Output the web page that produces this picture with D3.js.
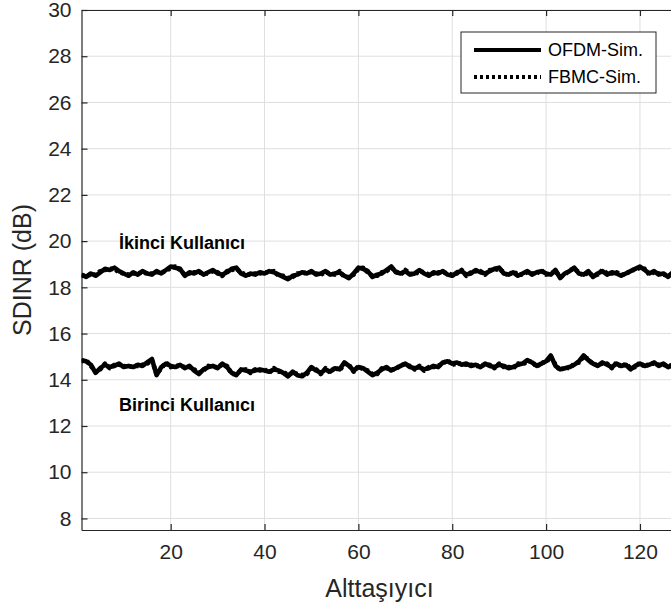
<!DOCTYPE html>
<html>
<head>
<meta charset="utf-8">
<script src="https://cdn.jsdelivr.net/npm/d3@7"></script>
<style>
  body { margin: 0; background: #fff; }
  svg { display: block; font-family: "Liberation Sans", Arial, sans-serif; }
</style>
</head>
<body>
<div id="chart"></div>
<script>
// values, subcarrier 1..128
const ikinciOFDM = [
  18.55, 18.45, 18.6, 18.5, 18.65, 18.8, 18.75, 18.85, 18.7, 18.6,
  18.5, 18.65, 18.55, 18.7, 18.6, 18.55, 18.7, 18.6, 18.75, 18.9,
  18.85, 18.8, 18.5, 18.65, 18.6, 18.7, 18.55, 18.65, 18.75, 18.6,
  18.55, 18.65, 18.8, 18.85, 18.6, 18.5, 18.6, 18.55, 18.65, 18.6,
  18.7, 18.65, 18.55, 18.45, 18.35, 18.5, 18.55, 18.65, 18.6, 18.7,
  18.55, 18.6, 18.7, 18.55, 18.6, 18.65, 18.5, 18.4, 18.6, 18.85,
  18.8, 18.7, 18.45, 18.55, 18.6, 18.75, 18.9, 18.65, 18.6, 18.7,
  18.55, 18.6, 18.75, 18.6, 18.5, 18.65, 18.6, 18.7, 18.55, 18.5,
  18.65, 18.7, 18.55, 18.6, 18.75, 18.65, 18.6, 18.7, 18.8, 18.85,
  18.6, 18.55, 18.65, 18.5, 18.6, 18.7, 18.55, 18.65, 18.7, 18.6,
  18.55, 18.75, 18.4, 18.6, 18.7, 18.85, 18.6, 18.55, 18.7, 18.45,
  18.6, 18.7, 18.55, 18.65, 18.6, 18.5, 18.6, 18.7, 18.8, 18.9,
  18.75, 18.6, 18.7, 18.55, 18.6, 18.45, 18.65, 18.6
];
const ikinciFBMC = [
  18.5, 18.5, 18.55, 18.55, 18.7, 18.75, 18.8, 18.8, 18.65, 18.6,
  18.55, 18.6, 18.6, 18.65, 18.6, 18.6, 18.65, 18.65, 18.7, 18.85,
  18.9, 18.75, 18.55, 18.6, 18.65, 18.65, 18.6, 18.6, 18.7, 18.65,
  18.5, 18.7, 18.75, 18.8, 18.65, 18.55, 18.55, 18.6, 18.6, 18.65,
  18.65, 18.7, 18.5, 18.5, 18.4, 18.45, 18.6, 18.6, 18.65, 18.65,
  18.6, 18.55, 18.65, 18.6, 18.55, 18.7, 18.45, 18.45, 18.55, 18.8,
  18.85, 18.65, 18.5, 18.5, 18.65, 18.7, 18.85, 18.7, 18.55, 18.75,
  18.6, 18.55, 18.7, 18.65, 18.55, 18.6, 18.65, 18.65, 18.6, 18.55,
  18.6, 18.75, 18.5, 18.65, 18.7, 18.7, 18.55, 18.75, 18.75, 18.8,
  18.65, 18.5, 18.7, 18.55, 18.55, 18.65, 18.6, 18.6, 18.75, 18.55,
  18.6, 18.7, 18.45, 18.55, 18.75, 18.8, 18.65, 18.5, 18.65, 18.5,
  18.55, 18.75, 18.6, 18.6, 18.65, 18.55, 18.55, 18.75, 18.75, 18.85,
  18.8, 18.55, 18.65, 18.6, 18.55, 18.5, 18.6, 18.65
];
const birinciOFDM = [
  14.85, 14.8, 14.65, 14.3, 14.5, 14.65, 14.55, 14.6, 14.7, 14.55,
  14.6, 14.55, 14.65, 14.6, 14.75, 14.9, 14.2, 14.55, 14.7, 14.6,
  14.55, 14.65, 14.5, 14.6, 14.4, 14.25, 14.45, 14.55, 14.6, 14.5,
  14.7, 14.55, 14.3, 14.2, 14.45, 14.4, 14.35, 14.4, 14.45, 14.4,
  14.35, 14.45, 14.4, 14.3, 14.15, 14.35, 14.2, 14.15, 14.3, 14.55,
  14.4, 14.3, 14.45, 14.35, 14.5, 14.45, 14.75, 14.6, 14.4, 14.55,
  14.5, 14.35, 14.2, 14.3, 14.45, 14.55, 14.4, 14.5, 14.6, 14.7,
  14.55, 14.5, 14.55, 14.45, 14.5, 14.6, 14.55, 14.75, 14.8, 14.7,
  14.75, 14.65, 14.7, 14.6, 14.65, 14.55, 14.7, 14.6, 14.55, 14.65,
  14.6, 14.5, 14.55, 14.65, 14.7, 14.85, 14.75, 14.6, 14.7, 14.8,
  15.05, 14.6, 14.45, 14.5, 14.55, 14.65, 14.8, 15.05, 14.85, 14.7,
  14.6, 14.75, 14.65, 14.55, 14.7, 14.6, 14.65, 14.45, 14.6, 14.7,
  14.6, 14.65, 14.75, 14.6, 14.7, 14.55, 14.65, 14.7
];
const birinciFBMC = [
  14.8, 14.85, 14.6, 14.35, 14.45, 14.7, 14.5, 14.65, 14.65, 14.6,
  14.55, 14.6, 14.6, 14.65, 14.7, 14.85, 14.25, 14.5, 14.75, 14.55,
  14.6, 14.6, 14.55, 14.55, 14.45, 14.3, 14.4, 14.6, 14.55, 14.55,
  14.65, 14.6, 14.25, 14.25, 14.4, 14.45, 14.3, 14.45, 14.4, 14.45,
  14.3, 14.5, 14.35, 14.35, 14.2, 14.3, 14.25, 14.2, 14.25, 14.5,
  14.45, 14.25, 14.5, 14.3, 14.55, 14.4, 14.7, 14.65, 14.35, 14.6,
  14.45, 14.4, 14.25, 14.25, 14.5, 14.5, 14.45, 14.45, 14.65, 14.65,
  14.6, 14.45, 14.6, 14.4, 14.55, 14.55, 14.6, 14.7, 14.85, 14.65,
  14.7, 14.7, 14.65, 14.65, 14.6, 14.6, 14.65, 14.65, 14.5, 14.7,
  14.55, 14.55, 14.5, 14.7, 14.65, 14.8, 14.8, 14.55, 14.75, 14.75,
  15.0, 14.65, 14.4, 14.55, 14.5, 14.7, 14.75, 15.0, 14.9, 14.65,
  14.65, 14.7, 14.7, 14.5, 14.75, 14.55, 14.7, 14.5, 14.55, 14.75,
  14.55, 14.7, 14.7, 14.65, 14.65, 14.6, 14.6, 14.75
];

const xTicks = [20, 40, 60, 80, 100, 120];
const yTicks = [8, 10, 12, 14, 16, 18, 20, 22, 24, 26, 28, 30];
const legendLabels = ["OFDM-Sim.", "FBMC-Sim."];

const W = 671, H = 609;
// plot box (right edge falls just outside the picture, as in the reference)
const plotLeft = 81.5, plotRight = 677.5, plotTop = 10, plotBottom = 530;
const axisColor = "#262626";

const svg = d3.select("#chart").append("svg")
    .attr("width", W)
    .attr("height", H);

const x = d3.scaleLinear().domain([1, 128]).range([plotLeft, plotRight]);
const y = d3.scaleLinear().domain([7.5, 30]).range([plotBottom, plotTop]);

// grid
svg.append("g").selectAll("line")
    .data(xTicks).enter().append("line")
    .attr("x1", d => x(d)).attr("x2", d => x(d))
    .attr("y1", plotTop).attr("y2", plotBottom)
    .attr("stroke", "#dfdfdf").attr("stroke-width", 1);
svg.append("g").selectAll("line")
    .data(yTicks).enter().append("line")
    .attr("x1", plotLeft).attr("x2", plotRight)
    .attr("y1", d => y(d)).attr("y2", d => y(d))
    .attr("stroke", "#dfdfdf").attr("stroke-width", 1);

// axes, ticks pointing inwards like matlab
const tickLen = 6;
const bottomAxis = svg.append("g")
    .attr("transform", "translate(0," + plotBottom + ")")
    .call(d3.axisBottom(x).tickValues(xTicks).tickSizeInner(-tickLen).tickSizeOuter(0).tickPadding(14));
const topAxis = svg.append("g")
    .attr("transform", "translate(0," + plotTop + ")")
    .call(d3.axisTop(x).tickValues(xTicks).tickSizeInner(-tickLen).tickSizeOuter(0).tickFormat(""));
const leftAxis = svg.append("g")
    .attr("transform", "translate(" + plotLeft + ",0)")
    .call(d3.axisLeft(y).tickValues(yTicks).tickSizeInner(-tickLen).tickSizeOuter(0).tickPadding(10));

[bottomAxis, topAxis, leftAxis].forEach(g => {
    g.select(".domain").attr("stroke", axisColor).attr("stroke-width", 1.2);
    g.selectAll(".tick line").attr("stroke", axisColor).attr("stroke-width", 1.2);
    g.selectAll(".tick text")
        .attr("fill", axisColor)
        .style("font-family", "'Liberation Sans', Arial, sans-serif")
        .style("font-size", "21px");
});

// clip the curves to the plot box
svg.append("clipPath").attr("id", "plot-clip")
    .append("rect")
    .attr("x", plotLeft).attr("y", plotTop)
    .attr("width", plotRight - plotLeft).attr("height", plotBottom - plotTop);

const line = d3.line()
    .x((d, i) => x(i + 1))
    .y(d => y(d));

const curves = svg.append("g").attr("clip-path", "url(#plot-clip)");
const series = [
    { values: ikinciOFDM, dash: null },
    { values: birinciOFDM, dash: null },
    { values: ikinciFBMC, dash: "3,3" },
    { values: birinciFBMC, dash: "3,3" }
];
curves.selectAll("path")
    .data(series).enter().append("path")
    .attr("d", d => line(d.values))
    .attr("fill", "none")
    .attr("stroke", "#000")
    .attr("stroke-width", 4.6)
    .attr("stroke-linejoin", "round")
    .attr("stroke-dasharray", d => d.dash);

// user labels
svg.append("text")
    .attr("x", 119).attr("y", 249)
    .style("font-size", "18px").style("font-weight", "bold")
    .attr("fill", "#000")
    .text("İkinci Kullanıcı");
svg.append("text")
    .attr("x", 119).attr("y", 411)
    .style("font-size", "18px").style("font-weight", "bold")
    .attr("fill", "#000")
    .text("Birinci Kullanıcı");

// axis titles
svg.append("text")
    .attr("x", (plotLeft + plotRight) / 2).attr("y", 597)
    .attr("text-anchor", "middle")
    .attr("fill", axisColor)
    .style("font-size", "25px")
    .text("Alttaşıyıcı");
svg.append("text")
    .attr("transform", "translate(31," + ((plotTop + plotBottom) / 2) + ") rotate(-90)")
    .attr("text-anchor", "middle")
    .attr("fill", axisColor)
    .style("font-size", "25px")
    .text("SDINR (dB)");

// legend
const legend = svg.append("g");
legend.append("rect")
    .attr("x", 461).attr("y", 32)
    .attr("width", 195).attr("height", 61)
    .attr("fill", "#fff")
    .attr("stroke", "#262626").attr("stroke-width", 1);
const rows = legend.selectAll(".row")
    .data(legendLabels).enter().append("g")
    .attr("class", "row")
    .attr("transform", (d, i) => "translate(0," + (50 + i * 27) + ")");
rows.append("line")
    .attr("x1", 474).attr("x2", 541)
    .attr("stroke", "#000").attr("stroke-width", 4)
    .attr("stroke-dasharray", (d, i) => i === 0 ? null : "3,3");
rows.append("text")
    .attr("x", 548).attr("dy", "0.35em")
    .attr("fill", "#000")
    .style("font-size", "18px")
    .text(d => d);
</script>
</body>
</html>
